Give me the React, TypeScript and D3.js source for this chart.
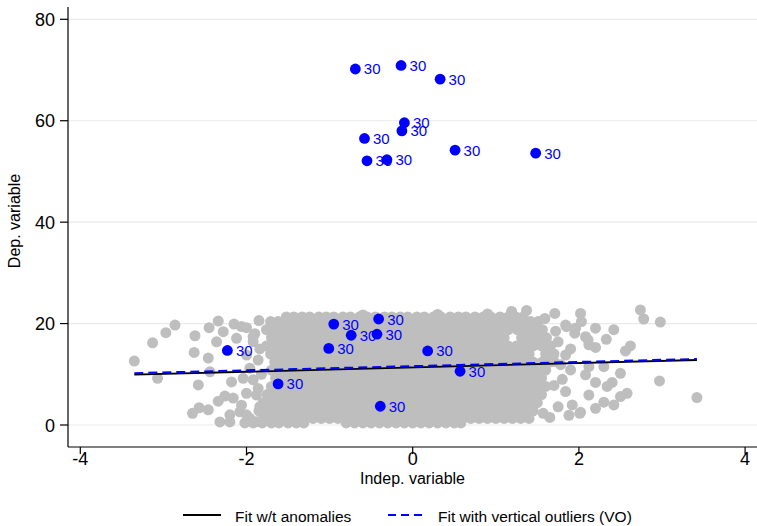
import React from "react";
import * as d3 from "d3";

const W = 757;
const H = 526;

const xTicks = [-4, -2, 0, 2, 4];
const yTicks = [0, 20, 40, 60, 80];
const xTitle = "Indep. variable";
const yTitle = "Dep. variable";

// Dense cloud of regular observations: [y, x values in that band]
const grayCoreRows: [number, number[]][] = [
  [21.3, [-1.52, -1.43, -1.33, -1.24, -1.13, -1.04, -0.95, -0.84, -0.75, -0.64, -0.55, -0.45, -0.34, -0.25, -0.15, -0.06, 0.05, 0.14, 0.25, 0.34, 0.45, 0.55, 0.64, 0.75, 0.85, 0.94, 1.05, 1.15, 1.24, 1.33]],
  [20.4, [-1.71, -1.62, -1.51, -1.4, -1.31, -1.21, -1.1, -1.01, -0.9, -0.8, -0.71, -0.6, -0.5, -0.41, -0.3, -0.2, -0.11, 0.0, 0.1, 0.21, 0.3, 0.4, 0.51, 0.6, 0.7, 0.81, 0.9, 1.01, 1.1, 1.2, 1.31, 1.42, 1.51]],
  [18.8, [-1.76, -1.66, -1.55, -1.45, -1.36, -1.25, -1.15, -1.06, -0.95, -0.85, -0.76, -0.65, -0.55, -0.44, -0.35, -0.25, -0.15, -0.05, 0.05, 0.15, 0.26, 0.35, 0.45, 0.56, 0.65, 0.75, 0.86, 0.95, 1.05, 1.15, 1.26, 1.35, 1.46, 1.56]],
  [17.2, [-1.7, -1.61, -1.5, -1.4, -1.3, -1.21, -1.1, -1.0, -0.9, -0.81, -0.7, -0.6, -0.5, -0.4, -0.31, -0.2, -0.1, 0.0, 0.1, 0.2, 0.3, 0.4, 0.5, 0.61, 0.7, 0.8, 0.9, 1.0, 1.1, 1.31, 1.4, 1.51, 1.61]],
  [15.6, [-1.76, -1.65, -1.55, -1.45, -1.35, -1.25, -1.15, -1.05, -0.95, -0.85, -0.75, -0.65, -0.55, -0.45, -0.35, -0.25, -0.15, -0.05, 0.05, 0.15, 0.25, 0.35, 0.45, 0.55, 0.65, 0.75, 0.85, 0.95, 1.05, 1.15, 1.25, 1.35, 1.45, 1.55, 1.66]],
  [14.0, [-1.71, -1.6, -1.5, -1.4, -1.3, -1.2, -1.1, -1.0, -0.9, -0.8, -0.7, -0.6, -0.5, -0.4, -0.3, -0.2, -0.1, 0.0, 0.1, 0.2, 0.3, 0.4, 0.5, 0.6, 0.7, 0.8, 0.9, 1.0, 1.1, 1.2, 1.3, 1.4, 1.6, 1.7]],
  [12.4, [-1.66, -1.55, -1.45, -1.35, -1.25, -1.15, -1.05, -0.95, -0.85, -0.75, -0.65, -0.55, -0.45, -0.35, -0.25, -0.15, -0.05, 0.05, 0.15, 0.25, 0.35, 0.45, 0.55, 0.65, 0.75, 0.85, 0.95, 1.05, 1.15, 1.25, 1.35, 1.45, 1.56, 1.65]],
  [10.8, [-1.7, -1.6, -1.5, -1.4, -1.3, -1.2, -1.1, -1.0, -0.9, -0.8, -0.7, -0.6, -0.5, -0.4, -0.3, -0.2, -0.1, 0.0, 0.1, 0.2, 0.3, 0.4, 0.5, 0.6, 0.7, 0.8, 0.9, 1.0, 1.1, 1.2, 1.3, 1.4, 1.5, 1.6]],
  [9.2, [-1.65, -1.55, -1.45, -1.35, -1.25, -1.15, -1.05, -0.95, -0.85, -0.75, -0.65, -0.55, -0.45, -0.35, -0.25, -0.15, -0.05, 0.05, 0.15, 0.25, 0.35, 0.45, 0.55, 0.65, 0.75, 0.85, 0.95, 1.05, 1.15, 1.25, 1.35, 1.45, 1.55]],
  [7.6, [-1.7, -1.6, -1.5, -1.4, -1.3, -1.2, -1.1, -1.0, -0.9, -0.8, -0.7, -0.6, -0.5, -0.4, -0.3, -0.2, -0.1, 0.0, 0.1, 0.2, 0.3, 0.4, 0.5, 0.6, 0.7, 0.8, 0.9, 1.0, 1.1, 1.2, 1.3, 1.4, 1.5, 1.6]],
  [6.0, [-1.75, -1.65, -1.55, -1.45, -1.35, -1.25, -1.15, -1.05, -0.95, -0.85, -0.75, -0.65, -0.55, -0.45, -0.35, -0.25, -0.15, -0.05, 0.05, 0.15, 0.25, 0.35, 0.45, 0.55, 0.65, 0.75, 0.85, 0.95, 1.05, 1.15, 1.25, 1.35, 1.45, 1.55]],
  [4.4, [-1.8, -1.7, -1.6, -1.5, -1.4, -1.3, -1.2, -1.1, -1.0, -0.9, -0.8, -0.7, -0.6, -0.5, -0.4, -0.3, -0.2, -0.1, 0.0, 0.1, 0.2, 0.3, 0.4, 0.5, 0.6, 0.7, 0.8, 0.9, 1.0, 1.1, 1.2, 1.3, 1.4, 1.5]],
  [2.8, [-1.85, -1.75, -1.65, -1.55, -1.45, -1.35, -1.25, -1.15, -1.05, -0.95, -0.85, -0.75, -0.65, -0.55, -0.45, -0.35, -0.25, -0.15, -0.05, 0.05, 0.15, 0.25, 0.35, 0.45, 0.55, 0.65, 0.75, 0.85, 0.95, 1.05, 1.15, 1.25, 1.35, 1.45]],
  [1.3, [-1.8, -1.7, -1.6, -1.5, -1.4, -1.3, -1.2, -1.1, -1.0, -0.9, -0.8, -0.7, -0.6, -0.5, -0.4, -0.3, -0.2, -0.1, 0.0, 0.1, 0.2, 0.3, 0.4, 0.5, 0.6, 0.7, 0.8, 0.9, 1.0, 1.1, 1.2, 1.3, 1.4]],
  [0.4, [-2.02, -1.92, -1.81, -1.7, -1.61, -1.5, -1.4, -1.31, -0.8, -0.7, -0.6, -0.5, -0.4, -0.3, -0.2, -0.1, 0.0, 0.1, 0.2, 0.3, 0.4, 0.5, 0.58]],
];

// Sparser observations around the edges of the cloud: [x, y]
const grayScatter: [number, number][] = [
  [-3.35, 12.6], [-3.13, 16.2], [-2.97, 18.2], [-2.86, 19.7], [-3.07, 9.2], [-2.62, 17.6], [-2.45, 19.2],
  [-2.34, 20.5], [-2.63, 14.3], [-2.58, 7.9], [-2.65, 2.3], [-2.57, 3.4], [-2.46, 3.0], [-2.34, 4.7],
  [-2.26, 5.7], [-2.46, 13.2], [-2.44, 10.5], [-2.32, 0.6], [-2.15, 19.9], [-2.0, 19.2], [-2.28, 18.4],
  [-2.12, 17.1], [-2.36, 16.4], [-2.18, 8.5], [-2.16, 5.3], [-2.08, 2.6], [-2.2, 0.6], [-1.96, 11.2],
  [-2.04, 9.2], [-1.92, 16.4], [-2.0, 13.8], [-1.88, 5.9], [-1.96, 1.3], [-2.06, 19.4], [-1.92, 17.4],
  [-1.86, 12.8], [-1.92, 8.9], [-2.0, 6.25], [-2.06, 3.9], [-2.0, 2.0], [-1.88, 0.65], [-2.2, 2.0],
  [-1.85, 20.6], [-1.84, 15.0], [-1.82, 10.0], [-1.86, 7.2], [-1.84, 3.6], [-1.9, 18.0],
  [2.74, 22.7], [2.78, 20.9], [2.98, 20.3], [2.02, 22.0], [2.03, 20.4], [1.71, 22.0], [2.2, 19.1],
  [2.42, 18.8], [2.33, 16.9], [2.62, 15.6], [2.56, 14.6], [2.2, 15.3], [2.08, 17.4], [1.96, 19.1],
  [2.5, 10.2], [2.4, 8.4], [2.34, 7.6], [2.2, 8.4], [2.58, 6.25], [2.5, 5.6], [2.97, 8.7], [3.42, 5.4],
  [2.42, 3.95], [2.3, 4.5], [2.02, 2.5], [2.12, 5.9], [2.08, 9.9], [2.3, 11.5], [1.9, 10.85], [1.84, 6.6],
  [1.75, 3.6], [1.92, 3.95], [2.2, 3.3], [2.12, 11.5], [1.84, 13.8], [1.75, 16.4], [1.84, 19.7], [2.12, 15.8],
  [1.59, 21.0], [1.37, 22.6], [1.19, 22.4], [1.85, 19.4], [1.95, 18.1], [2.11, 16.8], [1.7, 12.5],
  [1.8, 9.0], [1.7, 7.8], [1.88, 1.9], [1.65, 1.5], [1.78, 11.9], [1.9, 15.0], [1.72, 18.5],
  [2.01, 2.3], [1.57, 2.3], [0.9, 21.9], [0.3, 21.8], [-0.6, 21.7],
];

// Anomalous observations (all labelled "30")
const anomalyX = [-0.69, -0.14, 0.33, -0.1, -0.13, -0.58, 0.51, 1.48, -0.55, -0.31,
  -2.23, -1.62, -0.95, -0.74, -1.01, -0.41, -0.43, -0.39, 0.18, 0.57];
const anomalyY = [70.2, 70.9, 68.2, 59.6, 58.0, 56.5, 54.2, 53.6, 52.1, 52.3,
  14.7, 8.1, 19.9, 17.7, 15.1, 20.9, 17.9, 3.7, 14.6, 10.6];
const anomalyLabel = "30";

// Fitted lines (endpoints)
const fitX = [-3.35, 3.42];
const fitNoAnomalies = [9.92, 12.82];
const fitVerticalOutliers = [10.22, 13.02];
const legendLabels = ["Fit w/t anomalies", "Fit with vertical outliers (VO)"];

const FONT = "'Liberation Sans', Arial, Helvetica, sans-serif";
const GRAY = "#bebebe";
const BLUE = "#0000ff";

export default function App() {
  const x = d3.scaleLinear().domain([-4, 4]).range([80.3, 745.1]);
  const y = d3.scaleLinear().domain([0, 80]).range([425, 19.3]);

  const axisLeft = 68;
  const axisBottom = 447;

  const grayPts: [number, number][] = [];
  grayCoreRows.forEach(([yy, xs]) => xs.forEach((xx) => grayPts.push([xx, yy])));
  grayScatter.forEach((p) => grayPts.push(p));

  const line = d3
    .line<[number, number]>()
    .x((d) => x(d[0]))
    .y((d) => y(d[1]));

  const fit1: [number, number][] = fitX.map((v, i) => [v, fitNoAnomalies[i]]);
  const fit2: [number, number][] = fitX.map((v, i) => [v, fitVerticalOutliers[i]]);

  return (
    <svg
      width={W}
      height={H}
      style={{ position: "absolute", left: 0, top: 0, background: "#fff" }}
      fontFamily={FONT}
    >
      <rect width={W} height={H} fill="#fff" />
      {/* gridlines */}
      {yTicks.map((t) => (
        <line key={"g" + t} x1={axisLeft} x2={W} y1={y(t)} y2={y(t)} stroke="#eaeaea" strokeWidth={1.2} />
      ))}
      {/* gray cloud */}
      <g fill={GRAY}>
        {grayPts.map((p, i) => (
          <circle key={i} cx={x(p[0])} cy={y(p[1])} r={5.5} />
        ))}
      </g>
      {/* fit lines */}
      <path d={line(fit1) || ""} fill="none" stroke="#000" strokeWidth={1.8} />
      <path d={line(fit2) || ""} fill="none" stroke={BLUE} strokeWidth={2} strokeDasharray="9,5" />
      {/* anomalies */}
      <g>
        {anomalyX.map((ax, i) => (
          <g key={"a" + i}>
            <circle cx={x(ax)} cy={y(anomalyY[i])} r={5.4} fill={BLUE} />
            <text x={x(ax) + 8.5} y={y(anomalyY[i]) + 5.5} fontSize={15} fill={BLUE}>
              {anomalyLabel}
            </text>
          </g>
        ))}
      </g>
      {/* axes */}
      <line x1={axisLeft} x2={axisLeft} y1={7} y2={axisBottom} stroke="#000" strokeWidth={1.2} />
      <line x1={axisLeft} x2={W} y1={axisBottom} y2={axisBottom} stroke="#000" strokeWidth={1.2} />
      {yTicks.map((t) => (
        <g key={"yt" + t}>
          <line x1={axisLeft - 8} x2={axisLeft} y1={y(t)} y2={y(t)} stroke="#000" strokeWidth={1.2} />
          <text x={axisLeft - 13} y={y(t) + 6.5} fontSize={18} textAnchor="end" fill="#000">
            {t}
          </text>
        </g>
      ))}
      {xTicks.map((t) => (
        <g key={"xt" + t}>
          <line x1={x(t)} x2={x(t)} y1={axisBottom} y2={axisBottom + 7} stroke="#000" strokeWidth={1.2} />
          <text x={x(t)} y={464.5} fontSize={18} textAnchor="middle" fill="#000">
            {t < 0 ? "-" + Math.abs(t) : String(t)}
          </text>
        </g>
      ))}
      <text x={412.5} y={483.5} fontSize={16} textAnchor="middle" fill="#000">
        {xTitle}
      </text>
      <text
        transform={`translate(20,221) rotate(-90)`}
        fontSize={16}
        textAnchor="middle"
        fill="#000"
      >
        {yTitle}
      </text>
      {/* legend */}
      <line x1={183} x2={221} y1={515} y2={515} stroke="#000" strokeWidth={2} />
      <text x={235} y={521.5} fontSize={15.5} fill="#000">
        {legendLabels[0]}
      </text>
      <line x1={388} x2={427} y1={515} y2={515} stroke={BLUE} strokeWidth={2} strokeDasharray="8,5" />
      <text x={438} y={521.5} fontSize={15.5} fill="#000">
        {legendLabels[1]}
      </text>
    </svg>
  );
}
